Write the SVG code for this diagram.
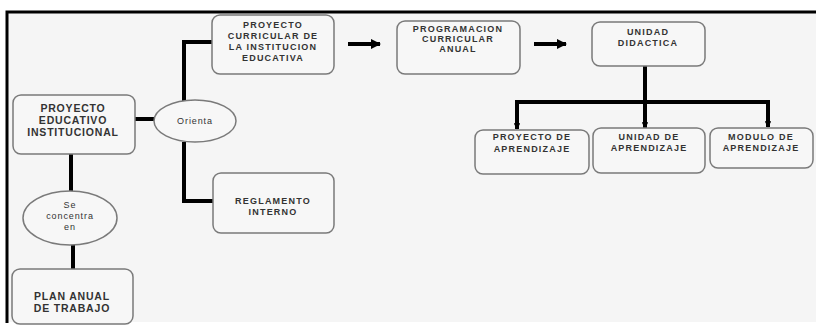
<svg xmlns="http://www.w3.org/2000/svg" width="816" height="327" viewBox="0 0 816 327">
  <defs>
    <marker id="arrow" viewBox="0 0 10 10" refX="9" refY="5" markerWidth="2.6" markerHeight="2.6" orient="auto" markerUnits="strokeWidth">
      <path d="M0,0 L10,5 L0,10 z" fill="#000"/>
    </marker>
    <marker id="tip" viewBox="0 0 10 10" refX="9" refY="5" markerWidth="1.6" markerHeight="1.6" orient="auto" markerUnits="strokeWidth">
      <path d="M0,0 L10,5 L0,10 z" fill="#000"/>
    </marker>
  </defs>
  <style>
    .box { fill: #f7f7f7; stroke: #7a7a7a; stroke-width: 1.5; }
    .oval { fill: #f7f7f7; stroke: #7a7a7a; stroke-width: 1.5; }
    .t { font-family: "Liberation Sans", Arial, sans-serif; font-weight: bold; font-size: 9px; letter-spacing: 1.2px; fill: #333333; text-anchor: middle; }
    .big { font-size: 10.5px; letter-spacing: 0.8px; }
    .small { font-weight: normal; font-size: 9px; letter-spacing: 0.9px; }
    .wire { fill: none; stroke: #000; stroke-width: 4; }
  </style>

  <!-- page background and frame -->
  <rect x="0" y="0" width="816" height="327" fill="#ffffff"/>
  <rect x="7" y="12" width="809" height="310" fill="#f5f5f5"/>
  <path d="M7,323 L7,12 L816,12" fill="none" stroke="#000" stroke-width="3"/>

  <!-- connectors -->
  <g id="connectors">
    <path class="wire" d="M135,119 L155,119"/>
    <path class="wire" d="M184,101 L184,42 L213,42"/>
    <path class="wire" d="M184,142 L184,201 L214,201"/>
    <path class="wire" d="M71,154 L71,191"/>
    <path class="wire" d="M73,245 L73,269"/>
    <path class="wire" d="M348,44 L380,44" marker-end="url(#arrow)"/>
    <path class="wire" d="M534,44 L566,44" marker-end="url(#arrow)"/>
    <path class="wire" d="M645,66 L645,128" marker-end="url(#tip)"/>
    <path class="wire" d="M517,102 L768,102"/>
    <path class="wire" d="M517,100 L517,129" marker-end="url(#tip)"/>
    <path class="wire" d="M768,100 L768,127" marker-end="url(#tip)"/>
  </g>

  <g id="pei">
    <rect class="box" x="13" y="95" width="122" height="59" rx="8"/>
    <text class="t big" x="73" y="112">PROYECTO</text>
    <text class="t big" x="73" y="124">EDUCATIVO</text>
    <text class="t big" x="73" y="136">INSTITUCIONAL</text>
  </g>

  <g id="orienta">
    <ellipse class="oval" cx="195" cy="121" rx="41" ry="21"/>
    <text class="t small" x="195" y="124">Orienta</text>
  </g>

  <g id="pcie">
    <rect class="box" x="212" y="15" width="122" height="59" rx="8"/>
    <text class="t" x="273" y="28">PROYECTO</text>
    <text class="t" x="273" y="39">CURRICULAR DE</text>
    <text class="t" x="273" y="50">LA INSTITUCION</text>
    <text class="t" x="273" y="61">EDUCATIVA</text>
  </g>

  <g id="reglamento">
    <rect class="box" x="213" y="173" width="121" height="60" rx="8"/>
    <text class="t" x="273" y="204">REGLAMENTO</text>
    <text class="t" x="273" y="215">INTERNO</text>
  </g>

  <g id="pca">
    <rect class="box" x="397" y="21" width="123" height="53" rx="8"/>
    <text class="t" x="458" y="32">PROGRAMACION</text>
    <text class="t" x="458" y="42">CURRICULAR</text>
    <text class="t" x="458" y="52">ANUAL</text>
  </g>

  <g id="unidad-didactica">
    <rect class="box" x="592" y="22" width="113" height="44" rx="8"/>
    <text class="t" x="648" y="35">UNIDAD</text>
    <text class="t" x="648" y="46">DIDACTICA</text>
  </g>

  <g id="proyecto-aprendizaje">
    <rect class="box" x="475" y="130" width="114" height="44" rx="8"/>
    <text class="t" x="532" y="140">PROYECTO DE</text>
    <text class="t" x="532" y="152">APRENDIZAJE</text>
  </g>

  <g id="unidad-aprendizaje">
    <rect class="box" x="593" y="128" width="112" height="45" rx="8"/>
    <text class="t" x="649" y="140">UNIDAD DE</text>
    <text class="t" x="649" y="151">APRENDIZAJE</text>
  </g>

  <g id="modulo-aprendizaje">
    <rect class="box" x="710" y="128" width="103" height="40" rx="8"/>
    <text class="t" x="761" y="140">MODULO DE</text>
    <text class="t" x="761" y="151">APRENDIZAJE</text>
  </g>

  <g id="se-concentra">
    <ellipse class="oval" cx="70" cy="218" rx="47" ry="27"/>
    <text class="t small" x="70" y="208">Se</text>
    <text class="t small" x="70" y="219">concentra</text>
    <text class="t small" x="70" y="230">en</text>
  </g>

  <g id="plan-anual">
    <rect class="box" x="12" y="269" width="121" height="55" rx="8"/>
    <text class="t big" x="72" y="300">PLAN ANUAL</text>
    <text class="t big" x="72" y="312">DE TRABAJO</text>
  </g>
</svg>
